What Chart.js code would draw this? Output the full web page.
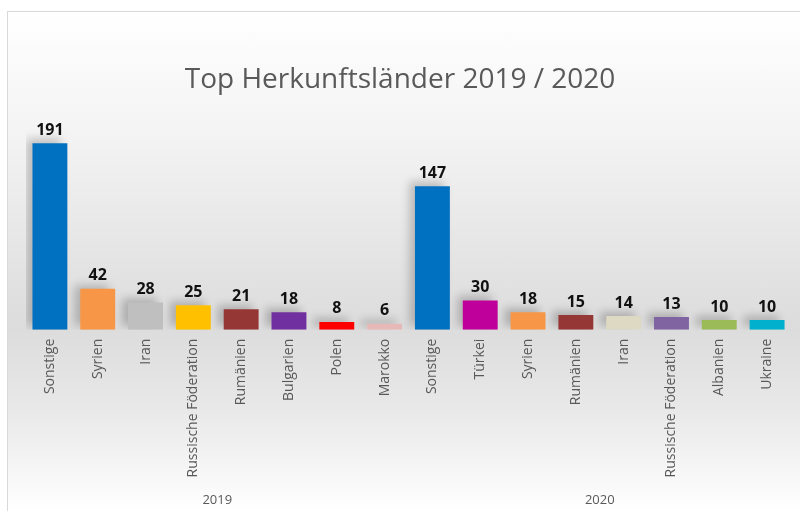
<!DOCTYPE html>
<html>
<head>
<meta charset="utf-8">
<script src="https://cdn.jsdelivr.net/npm/chart.js@4"></script>
<style>
  html, body { margin: 0; padding: 0; background: #fff; }
  #wrap {
    position: absolute; left: 7px; top: 11px; width: 792px; height: 500px;
    border-left: 1px solid #d9d9d9; border-top: 1px solid #d9d9d9;
    background: linear-gradient(to bottom, #ffffff 0%, #f3f3f3 25%, #dcdcdc 63%, #e9e9e9 80%, #ffffff 100%);
  }
</style>
</head>
<body>
<div id="wrap"><canvas id="herkunft"></canvas></div>
<script>
// Daten
var titel = 'Top Herkunftsländer 2019 / 2020';
var laender = ['Sonstige', 'Syrien', 'Iran', 'Russische Föderation', 'Rumänien', 'Bulgarien', 'Polen', 'Marokko',
               'Sonstige', 'Türkei', 'Syrien', 'Rumänien', 'Iran', 'Russische Föderation', 'Albanien', 'Ukraine'];
var anzahl = [191, 42, 28, 25, 21, 18, 8, 6,
              147, 30, 18, 15, 14, 13, 10, 10];
var jahre = ['2019', '2020'];
var farben = ['#0070C0', '#F79646', '#BFBFBF', '#FFC000', '#953735', '#7030A0', '#FF0000', '#E6B9B8',
              '#0070C0', '#C0009A', '#F79646', '#953735', '#DDD9C3', '#8064A2', '#9BBB59', '#00B0CC'];

// Titel (mittig ueber dem ganzen Diagramm, nicht nur der Zeichenflaeche)
var titelPlugin = {
    id: 'titel',
    afterDraw: function(chart) {
        var ctx = chart.ctx;
        ctx.save();
        ctx.font = '28px "Open Sans"';
        ctx.fillStyle = '#595959';
        ctx.textAlign = 'center';
        ctx.textBaseline = 'alphabetic';
        ctx.fillText(titel, chart.width / 2 - 4, 76);
        ctx.restore();
    }
};

// weicher Schatten hinter den Balken
var schattenPlugin = {
    id: 'schatten',
    beforeDatasetsDraw: function(chart) {
        var ctx = chart.ctx;
        ctx.save();
        ctx.shadowColor = 'rgba(0, 0, 0, 0.22)';
        ctx.shadowBlur = 9;
        ctx.shadowOffsetX = -6;
        ctx.shadowOffsetY = -4;
    },
    afterDatasetsDraw: function(chart) {
        chart.ctx.restore();
    }
};

// Werte ueber den Balken
var wertePlugin = {
    id: 'werte',
    afterDatasetsDraw: function(chart) {
        var ctx = chart.ctx;
        var meta = chart.getDatasetMeta(0);
        ctx.save();
        ctx.font = 'bold 16px "Open Sans"';
        ctx.fillStyle = '#111';
        ctx.textAlign = 'center';
        ctx.textBaseline = 'bottom';
        meta.data.forEach(function(bar, i) {
            ctx.fillText(chart.data.datasets[0].data[i], bar.x, bar.y - 5);
        });
        ctx.restore();
    }
};

var ctx = document.getElementById('herkunft');
var chart = new Chart(ctx, {
    type: 'bar',
    data: {
        labels: laender,
        datasets: [{
            label: 'Herkunft',
            data: anzahl,
            backgroundColor: farben,
            barPercentage: 0.73,
            categoryPercentage: 1
        }]
    },
    options: {
        responsive: true,
        maintainAspectRatio: false,
        animation: false,
        layout: {
            padding: { left: 18, right: 9, top: 100, bottom: -2 }
        },
        plugins: {
            legend: { display: false },
            tooltip: { enabled: false },
            title: { display: false }
        },
        scales: {
            y: {
                display: false,
                min: 0,
                max: 223
            },
            x: {
                grid: { display: false, drawTicks: false },
                border: { display: false },
                ticks: {
                    color: '#595959',
                    font: { family: 'Open Sans', size: 14 },
                    minRotation: 90,
                    maxRotation: 90,
                    autoSkip: false,
                    padding: 9
                }
            },
            x2: {
                type: 'category',
                position: 'bottom',
                labels: jahre,
                offset: true,
                grid: { display: false, drawTicks: false },
                border: { display: false },
                ticks: {
                    color: '#595959',
                    font: { family: 'Open Sans', size: 13 },
                    padding: 6
                }
            }
        }
    },
    plugins: [schattenPlugin, wertePlugin, titelPlugin]
});
</script>
</body>
</html>
